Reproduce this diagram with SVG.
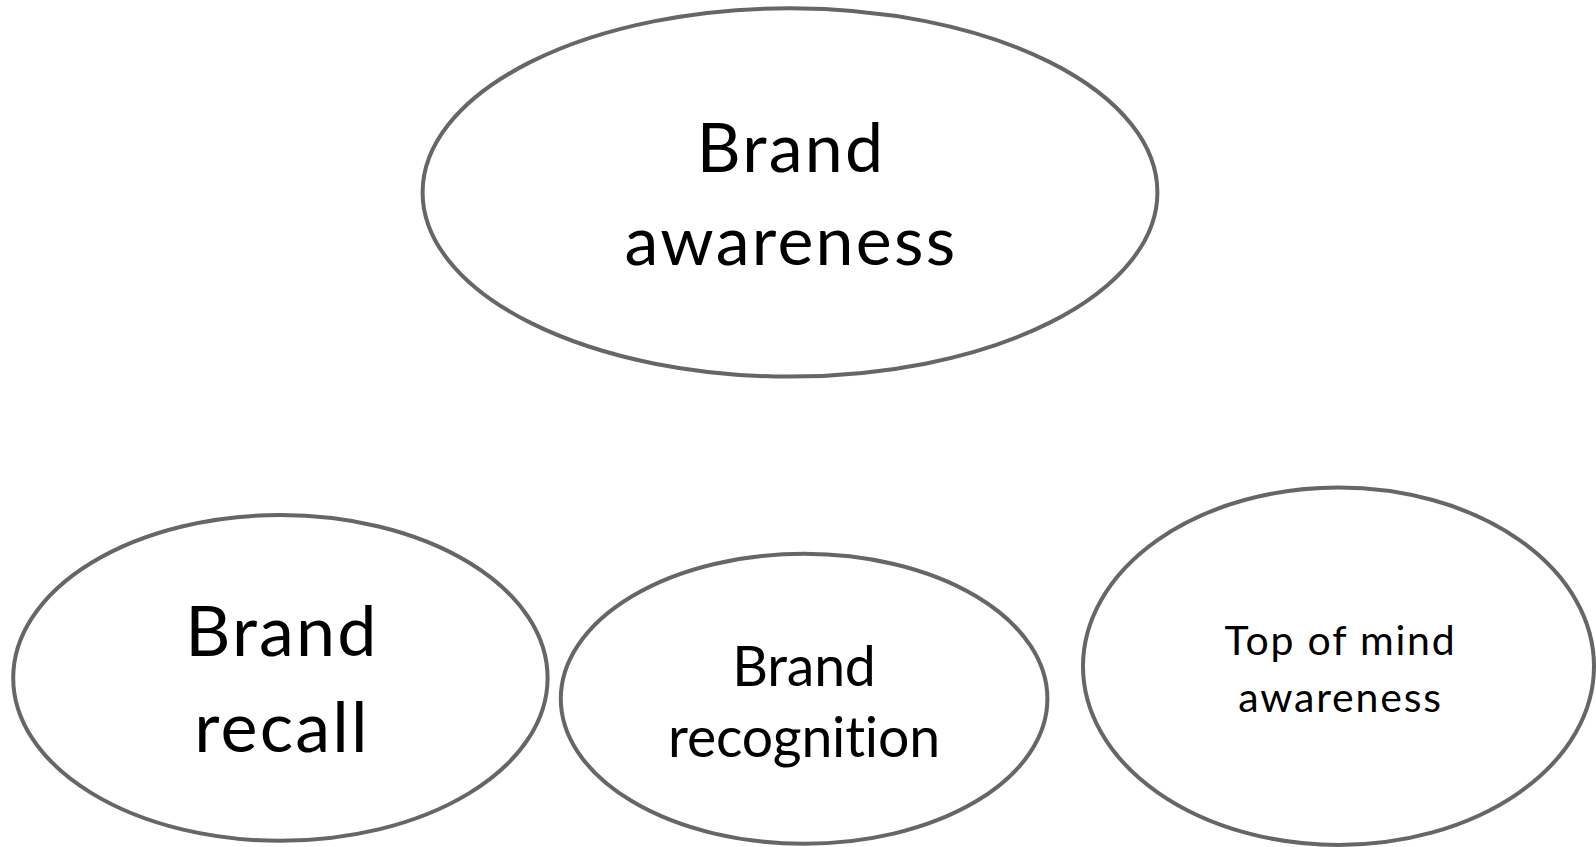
<svg xmlns="http://www.w3.org/2000/svg" width="1596" height="847" viewBox="0 0 1596 847">
  <style>
    .bubble { fill: #ffffff; stroke: #666666; stroke-width: 4; }
    .label { font-family: Lato, "Open Sans", "Liberation Sans", sans-serif; fill: #000000; text-anchor: middle; font-variant-ligatures: none; }
    .xl { font-size: 68px; letter-spacing: 2.3px; }
    .lg { font-size: 70px; letter-spacing: 2.2px; }
    .md { font-size: 55.4px; letter-spacing: -0.2px; }
    .sm { font-size: 41px; letter-spacing: 1.8px; }
  </style>
  <rect width="1596" height="847" fill="#ffffff"/>
  <g id="connectors"></g>
  <g id="brand-awareness">
    <ellipse class="bubble" cx="790" cy="192.4" rx="367.4" ry="184.2"/>
    <text class="label xl" x="791" y="172">Brand</text>
    <text class="label xl" x="791" y="265">awareness</text>
  </g>
  <g id="brand-recall">
    <ellipse class="bubble" cx="280.4" cy="677.9" rx="267.2" ry="162.9"/>
    <text class="label lg" x="282" y="656">Brand</text>
    <text class="label lg" x="282" y="752">recall</text>
  </g>
  <g id="brand-recognition">
    <ellipse class="bubble" cx="804.1" cy="698.8" rx="243.3" ry="145"/>
    <text class="label md" x="804" y="685.7">Brand</text>
    <text class="label md" x="804" y="757.3">recognition</text>
  </g>
  <g id="top-of-mind-awareness">
    <ellipse class="bubble" cx="1338.5" cy="666.2" rx="255.5" ry="178.7"/>
    <text class="label sm" x="1340.5" y="655">Top of mind</text>
    <text class="label sm" x="1340.5" y="711.7">awareness</text>
  </g>
</svg>
